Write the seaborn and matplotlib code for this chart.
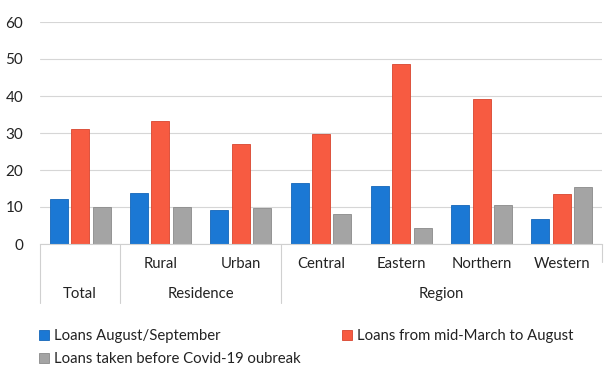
import matplotlib
matplotlib.use("Agg")
import matplotlib.pyplot as plt
import matplotlib.transforms as mtransforms
import pandas as pd
import seaborn as sns

# Share of households with loans, by group
categories = ["Total", "Rural", "Urban", "Central", "Eastern", "Northern", "Western"]
loans_aug_sep = [12.2, 13.8, 9.3, 16.4, 15.8, 10.5, 6.7]
loans_mar_aug = [31.2, 33.3, 27.1, 29.8, 48.7, 39.2, 13.6]
loans_pre_covid = [9.9, 10.0, 9.6, 8.2, 4.2, 10.5, 15.5]
series_names = [
    "Loans August/September",
    "Loans from mid-March to August",
    "Loans taken before Covid-19 oubreak",
]
groups = [("Total", 0, 1), ("Residence", 1, 3), ("Region", 3, 7)]
colors = ["#1b78d4", "#f75b41", "#a4a4a4"]
edges = ["#1466b8", "#d8452e", "#8a8a8a"]

rows = []
for name, vals in zip(series_names, [loans_aug_sep, loans_mar_aug, loans_pre_covid]):
    for cat, v in zip(categories, vals):
        rows.append({"category": cat, "series": name, "value": v})
df = pd.DataFrame(rows)

sns.set_theme(style="white")
plt.rcParams["font.family"] = ["Lato", "DejaVu Sans"]

W, H = 609, 365
fig = plt.figure(figsize=(W / 100, H / 100), dpi=100)
ax = fig.add_axes([40 / W, 1 - 244 / H, (602 - 40) / W, (244 - 22) / H])

sns.barplot(
    data=df, x="category", y="value", hue="series", order=categories,
    hue_order=series_names, palette=colors, saturation=1, width=0.8, gap=0.16,
    legend=False, ax=ax, linewidth=0.6,
)
for cont, ec in zip(ax.containers, edges):
    for p in cont:
        p.set_edgecolor(ec)

ax.set_ylim(0, 60)
ax.set_xlim(-0.5, len(categories) - 0.5)
ax.set_yticks(range(0, 61, 10))
ax.yaxis.grid(True, color="#d6d6d6", linewidth=0.8)
ax.set_axisbelow(True)
for s in ["top", "right", "left"]:
    ax.spines[s].set_visible(False)
ax.spines["bottom"].set_color("#d0d0d0")
ax.spines["bottom"].set_linewidth(0.8)
ax.tick_params(axis="y", length=0, labelsize=11, colors="#222222", pad=12)
ax.set_xticks([])
ax.set_xlabel("")
ax.set_ylabel("")

# Two-level category axis
fs = 10.7
trans = mtransforms.blended_transform_factory(ax.transData, fig.transFigure)
y_row1 = 1 - 264 / H
y_row2 = 1 - 294 / H
for i, cat in enumerate(categories):
    if cat != "Total":
        ax.text(i, y_row1, cat, transform=trans, ha="center", va="center",
                fontsize=fs, color="#222222")
for name, a, b in groups:
    ax.text((a + b - 1) / 2, y_row2, name, transform=trans, ha="center",
            va="center", fontsize=fs, color="#222222")
y_top = 1 - 244 / H
y_bot = 1 - 303 / H
for xsep in [-0.5, 0.5, 2.5]:
    ax.plot([xsep, xsep], [y_top, y_bot], transform=trans, color="#d0d0d0",
            linewidth=0.8, clip_on=False)
ax.plot([6.5, 6.5], [y_top, 1 - 262 / H], transform=trans, color="#d0d0d0",
        linewidth=0.8, clip_on=False)

# Legend built from the drawn bars
handles = [cont[0] for cont in ax.containers]
leg_kw = dict(frameon=False, fontsize=fs, handlelength=0.65, handleheight=0.65,
              handletextpad=0.35, labelspacing=0.6, borderaxespad=0,
              borderpad=0, labelcolor="#222222")
fig.legend([handles[0], handles[2]], [series_names[0], series_names[2]],
           loc="upper left", bbox_to_anchor=(39 / W, 1 - 329 / H), **leg_kw)
fig.legend([handles[1]], [series_names[1]], loc="upper left",
           bbox_to_anchor=(342 / W, 1 - 329 / H), **leg_kw)

fig.savefig("out.png", dpi=100)
